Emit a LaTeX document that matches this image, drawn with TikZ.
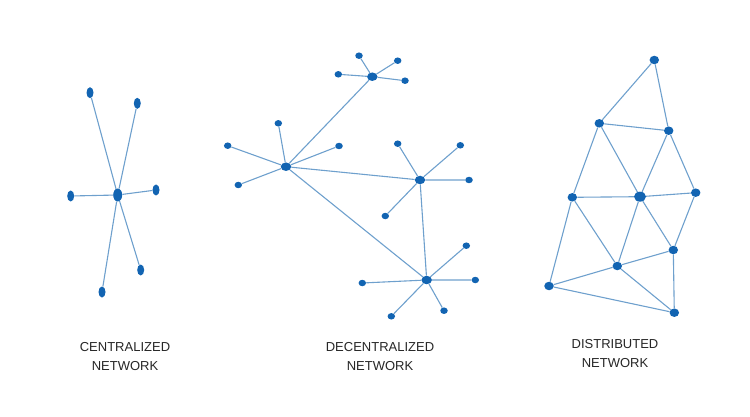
\documentclass[tikz,border=0pt]{standalone}
\usepackage{fontspec}
\setmainfont{Liberation Sans}
\usetikzlibrary{shapes.geometric}
\definecolor{nodeblue}{RGB}{18,100,178}
\definecolor{edgeblue}{RGB}{110,160,205}
\begin{document}
\begin{tikzpicture}[
	x=1pt, y=-1pt,
	vertex/.style={ ellipse, fill=nodeblue, inner sep=0pt, minimum width=7.5pt, minimum height=6.5pt },
	vertexh/.style={ ellipse, fill=nodeblue, inner sep=0pt, minimum width=10.5pt, minimum height=8.5pt },
	vertexv/.style={ ellipse, fill=nodeblue, inner sep=0pt, minimum width=7pt, minimum height=11pt },
	vertexd/.style={ ellipse, fill=nodeblue, inner sep=0pt, minimum width=9.5pt, minimum height=8.5pt },
	edge/.style={ edgeblue, line width=1.1pt },
	caption/.style={ align=center, font=\fontsize{13}{19}\selectfont, text=black!85 }
]
\useasboundingbox (0,0) rectangle (750,417);

% centralized
\node at (117.7,195) (c0) [vertexv,minimum width=9pt,minimum height=13pt] {};
\node at (90,92.7) (c1) [vertexv] {};
\node at (137.3,103.3) (c2) [vertexv] {};
\node at (70.7,196) (c3) [vertexv] {};
\node at (156,190) (c4) [vertexv] {};
\node at (140.7,270) (c5) [vertexv] {};
\node at (102,292) (c6) [vertexv] {};
\draw[edge] (c0) to (c1) (c0) to (c2) (c0) to (c3) (c0) to (c4) (c0) to (c5) (c0) to (c6);

% decentralized
\node at (372.3,76.7) (a0) [vertexh] {};
\node at (359,55.7) (a1) [vertex] {};
\node at (397.7,60.7) (a2) [vertex] {};
\node at (338.3,74.3) (a3) [vertex] {};
\node at (405,80.7) (a4) [vertex] {};
\draw[edge] (a0) to (a1) (a0) to (a2) (a0) to (a3) (a0) to (a4);

\node at (286,166.7) (b0) [vertexh] {};
\node at (278.3,123.3) (b1) [vertex] {};
\node at (227.7,145.7) (b2) [vertex] {};
\node at (339,146) (b3) [vertex] {};
\node at (238.3,185) (b4) [vertex] {};
\draw[edge] (b0) to (b1) (b0) to (b2) (b0) to (b3) (b0) to (b4);

\node at (420,180) (d0) [vertexh] {};
\node at (397.7,143.7) (d1) [vertex] {};
\node at (460.3,145.3) (d2) [vertex] {};
\node at (469,180) (d3) [vertex] {};
\node at (385.3,216) (d4) [vertex] {};
\draw[edge] (d0) to (d1) (d0) to (d2) (d0) to (d3) (d0) to (d4);

\node at (426.7,280) (e0) [vertexh] {};
\node at (466.3,245.7) (e1) [vertex] {};
\node at (475.3,280) (e2) [vertex] {};
\node at (362.3,283) (e3) [vertex] {};
\node at (391.3,316.3) (e4) [vertex] {};
\node at (444,310.7) (e5) [vertex] {};
\draw[edge] (e0) to (e1) (e0) to (e2) (e0) to (e3) (e0) to (e4) (e0) to (e5);

\draw[edge] (b0) to (a0) (b0) to (d0) (b0) to (e0) (d0) to (e0);

% distributed
\node at (654.3,60) (n1) [vertexd] {};
\node at (599.3,123.3) (n2) [vertexd] {};
\node at (668.7,130.7) (n3) [vertexd] {};
\node at (572.3,197.3) (n4) [vertexd] {};
\node at (640,196.7) (n5) [vertexd,minimum width=12pt,minimum height=10pt] {};
\node at (695.7,192.7) (n6) [vertexd] {};
\node at (673.3,250) (n7) [vertexd] {};
\node at (617.3,266) (n8) [vertexd] {};
\node at (549,286) (n9) [vertexd] {};
\node at (674.3,312.7) (n10) [vertexd] {};
\draw[edge] (n1) to (n2) to (n3) to (n1);
\draw[edge] (n2) to (n4) to (n5) to (n2);
\draw[edge] (n3) to (n5) to (n6) to (n3);
\draw[edge] (n4) to (n8) to (n5) to (n7) to (n6);
\draw[edge] (n4) to (n9) to (n8) to (n7) to (n10) to (n8);
\draw[edge] (n9) to (n10);

\node at (125,357) (t1) [caption] {CENTRALIZED\\NETWORK};
\node at (380,357) (t2) [caption] {DECENTRALIZED\\NETWORK};
\node at (615,354) (t3) [caption] {DISTRIBUTED\\NETWORK};
\end{tikzpicture}
\end{document}
